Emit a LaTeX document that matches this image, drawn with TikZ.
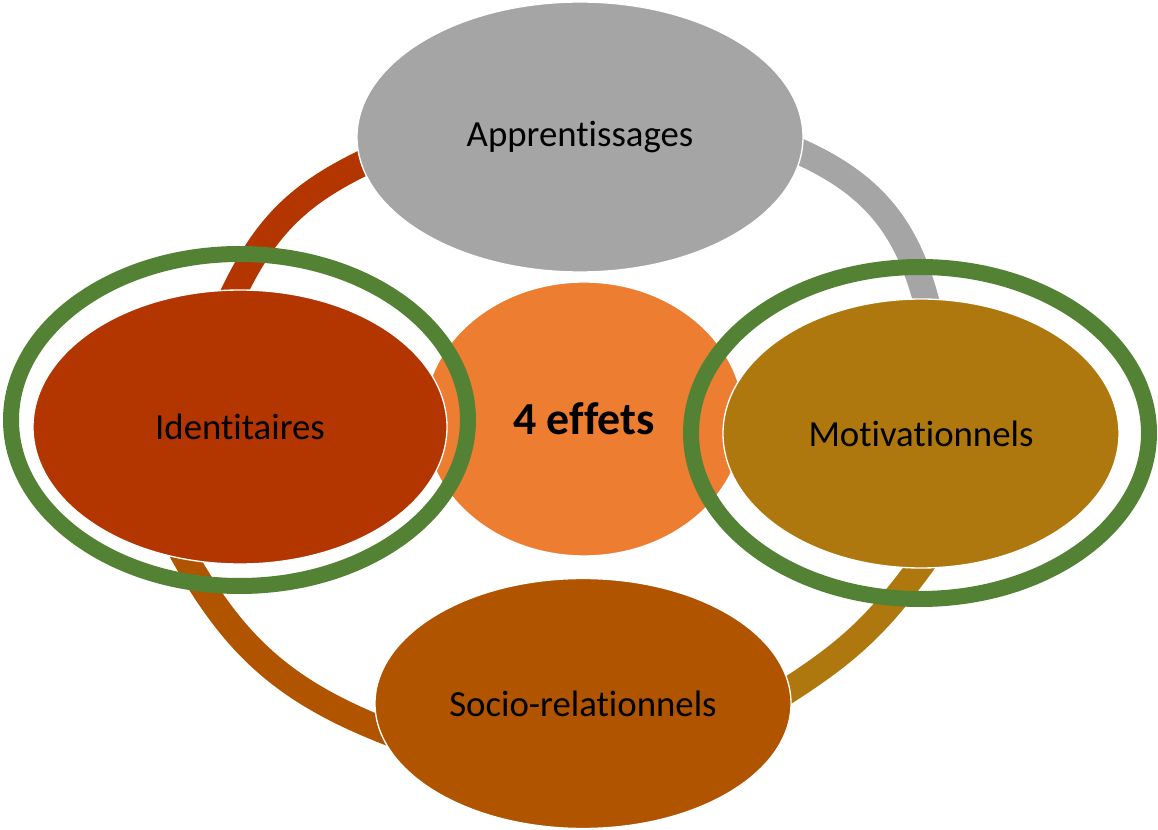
\documentclass[tikz,border=0pt]{standalone}
\usepackage{fontspec}
\setmainfont{Carlito}[Ligatures=NoCommon]
\usetikzlibrary{shapes.geometric,backgrounds}

\definecolor{apprgray}{HTML}{A5A5A5}
\definecolor{idenred}{HTML}{B33500}
\definecolor{effetorange}{HTML}{ED7D31}
\definecolor{motigold}{HTML}{AE780E}
\definecolor{socibrown}{HTML}{B05400}
\definecolor{ringgreen}{HTML}{548235}

\tikzset{
  effet/.style={ellipse, draw=white, line width=1pt, inner sep=0pt,
    font=\fontsize{27.6}{33}\selectfont},
  ring/.style={ellipse, draw=ringgreen, line width=12pt, inner sep=0pt},
  link/.style={line width=19.5pt, shorten <=-10pt, shorten >=-10pt},
}

\begin{document}
\begin{tikzpicture}[x=0.75pt,y=-0.75pt]
	\useasboundingbox (0,0) rectangle (1158,830);
	
	% centre ellipse
	\node[effet, fill=effetorange, minimum width=240pt, minimum height=205.5pt,
		font=\fontsize{34.4}{41}\selectfont\bfseries] (effets) at (584,419) {4 effets};
	
	% outer ellipses
	\node[effet, fill=idenred, minimum width=310.5pt, minimum height=205.5pt] (iden) at (240,427) {Identitaires};
	\node[effet, fill=motigold, minimum width=297pt, minimum height=201.75pt] (moti) at (921,433.5) {Motivationnels};
	\node[effet, fill=apprgray, minimum width=334.5pt, minimum height=202.5pt] (appr) at (580,137) {Apprentissages};
	\node[effet, fill=socibrown, minimum width=312pt, minimum height=187.5pt] (soci) at (583,703.5) {Socio-relationnels};
	
	% arcs between the ellipses
	\begin{scope}[on background layer]
		\draw[link, idenred] (iden.92) to[bend left=20] (appr.187);
		\draw[link, apprgray] (appr.356) to[bend left=27] (moti.88);
		\draw[link, motigold] (moti.269) to[bend left=11] (soci.4);
		\draw[link, socibrown] (soci.187) to[bend left=20] (iden.248);
	\end{scope}
	
	% green rings
	\node[ring, minimum width=342.75pt, minimum height=249pt] (ringL) at (239.5,420) {};
	\node[ring, minimum width=343.5pt, minimum height=249pt] (ringR) at (920,433) {};
	
\end{tikzpicture}
\end{document}
